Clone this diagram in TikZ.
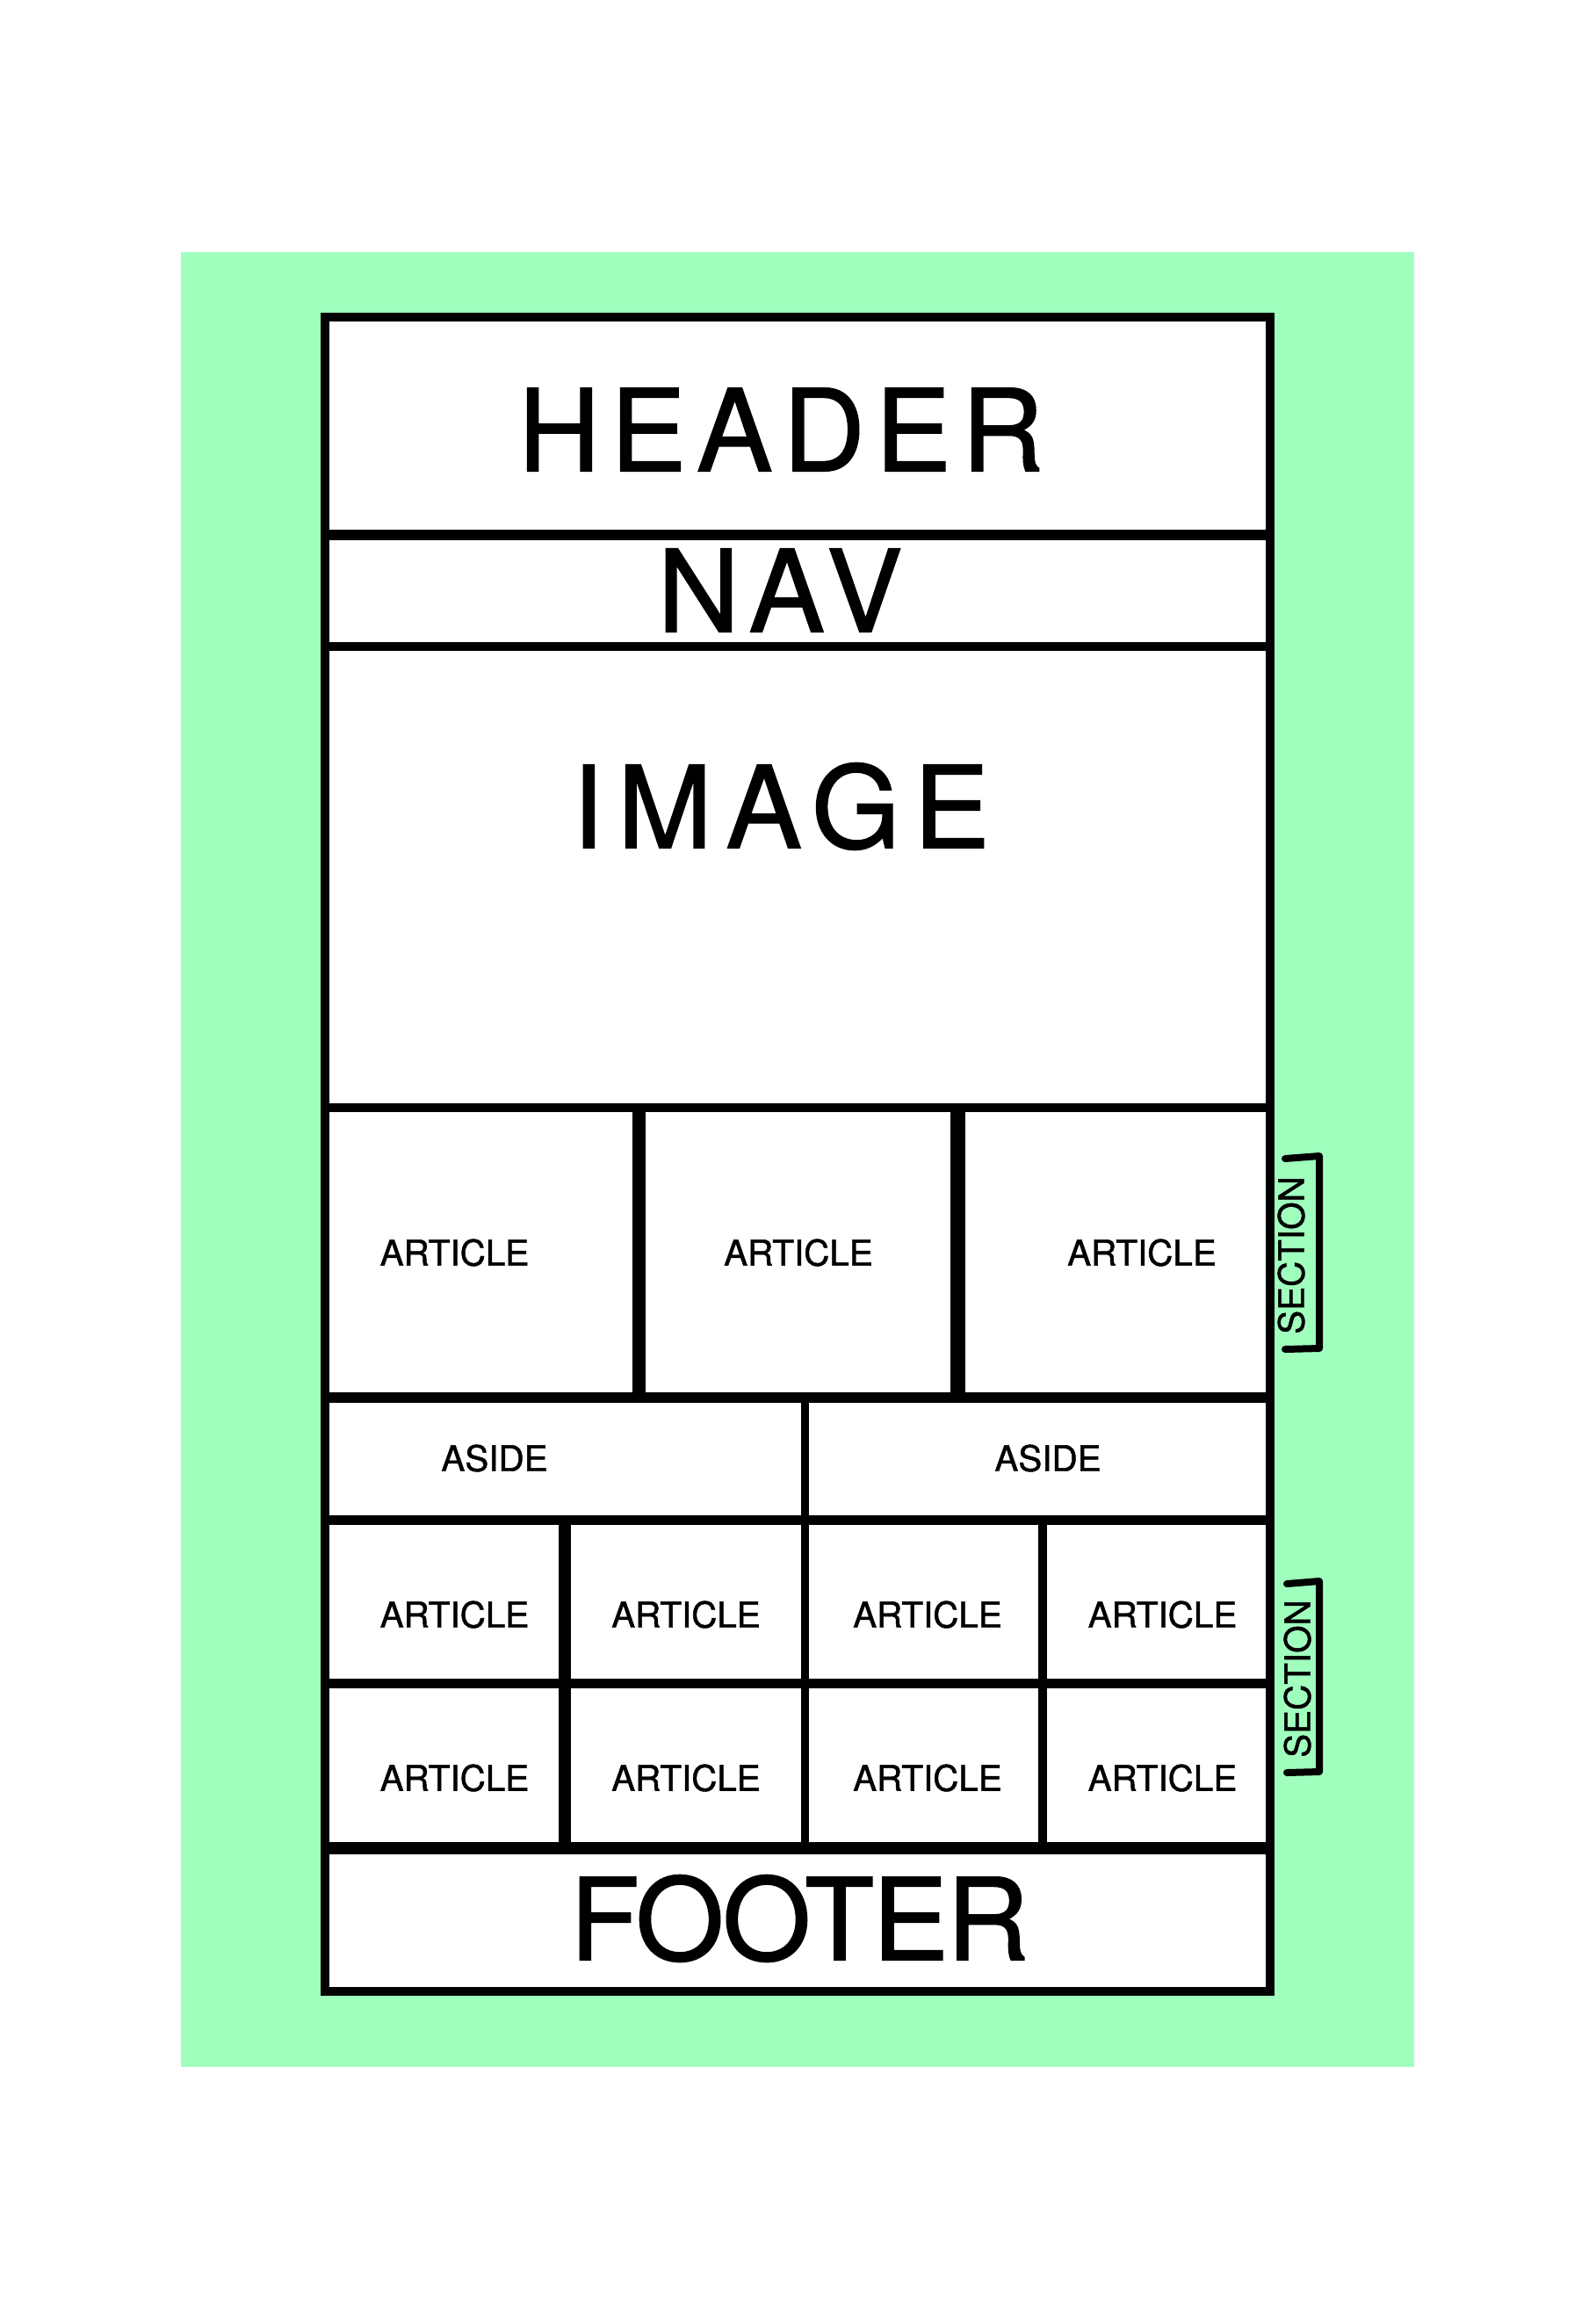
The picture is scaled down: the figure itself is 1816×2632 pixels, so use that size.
\documentclass[tikz,border=0pt]{standalone}
\usepackage{fontspec}
\setmainfont[FakeBold=1.2, AutoFakeBold=1.2]{TeX Gyre Heros}
\newfontfamily\headfont[LetterSpace=9, FakeBold=1.2]{TeX Gyre Heros}
\newfontfamily\imagefont[LetterSpace=12, FakeBold=1.2]{TeX Gyre Heros}
\newfontfamily\navfont[LetterSpace=9, FakeBold=1.2]{TeX Gyre Heros}
\newfontfamily\footfont[LetterSpace=-1.5, FakeBold=1.2]{TeX Gyre Heros}
\newfontfamily\tagfont[FakeBold=1.2]{TeX Gyre Heros}
\definecolor{mint}{HTML}{A1FFBE}

\begin{document}
\begin{tikzpicture}[
		x=0.5pt, y=-0.5pt,
		headtag/.style={font=\headfont\fontsize{64.8}{70}\selectfont, inner sep=0pt},
		imagetag/.style={font=\imagefont\fontsize{64.8}{70}\selectfont, inner sep=0pt},
		navtag/.style={font=\navfont\fontsize{64.8}{70}\selectfont, inner sep=0pt},
		foottag/.style={font=\footfont\fontsize{64.8}{70}\selectfont, inner sep=0pt},
		smalltag/.style={font=\tagfont\fontsize{20.2}{22}\selectfont, inner sep=0pt},
		sectiontag/.style={smalltag, rotate=90},
		frame/.style={line width=5pt},
		bracket/.style={line width=4pt, line cap=round, line join=round},
		]
		\useasboundingbox (0,0) rectangle (1816,2632);
		
		%% ── ФОН И РАМКА ────────────────────────────────────────
		\fill[mint] (206,287) rectangle (1610,2353);
		\draw[frame, fill=white] (370,361) rectangle (1446,2267);
		
		% горизонтальные линии
		\foreach \y/\w in {609/6, 736/5, 1261/5, 1591/6, 1730/5.5, 1916.5/5.5, 2104/7}
		\draw[line width=\w pt] (370,\y) -- (1446,\y);
		
		% вертикальные линии
		\foreach \x/\ya/\yb/\w in {727.5/1261/1591/7.5, 1090/1261/1591/8.5,
			916/1591/1730/4.5, 643/1730/2104/7, 916/1730/2104/4.5, 1187/1730/2104/5}
		\draw[line width=\w pt] (\x,\ya) -- (\x,\yb);
		
		%% ── БОЛЬШИЕ НАДПИСИ ────────────────────────────────────
		\node[headtag]  (header) at (889,489)  {HEADER};
		\node[navtag]   (nav)    at (888,672)  {NAV};
		\node[imagetag] (image)  at (889,918)  {IMAGE};
		\node[foottag]  (footer) at (910,2184) {FOOTER};
		
		%% ── ARTICLE / ASIDE ────────────────────────────────────
		\node[smalltag] (artA) at (517.5,1426) {ARTICLE};
		\node[smalltag] (artB) at (909,1426)   {ARTICLE};
		\node[smalltag] (artC) at (1300,1426)  {ARTICLE};
		
		\node[smalltag] (asideA) at (563,1660)  {ASIDE};
		\node[smalltag] (asideB) at (1193,1660) {ASIDE};
		
		\foreach \x [count=\i] in {517.5, 781, 1056, 1323.5}{
			\node[smalltag] (gridtop\i) at (\x,1838) {ARTICLE};
			\node[smalltag] (gridbot\i) at (\x,2024) {ARTICLE};
		}
		
		%% ── SECTION ────────────────────────────────────────────
		\node[sectiontag] (secA) at (1470,1429) {SECTION};
		\draw[bracket] (1463,1319) -- (1502,1316) -- (1502,1535) -- (1463,1536);
		
		\node[sectiontag] (secB) at (1477,1911) {SECTION};
		\draw[bracket] (1465,1803) -- (1502,1800) -- (1502,2017) -- (1465,2018);
		
	\end{tikzpicture}
\end{document}
